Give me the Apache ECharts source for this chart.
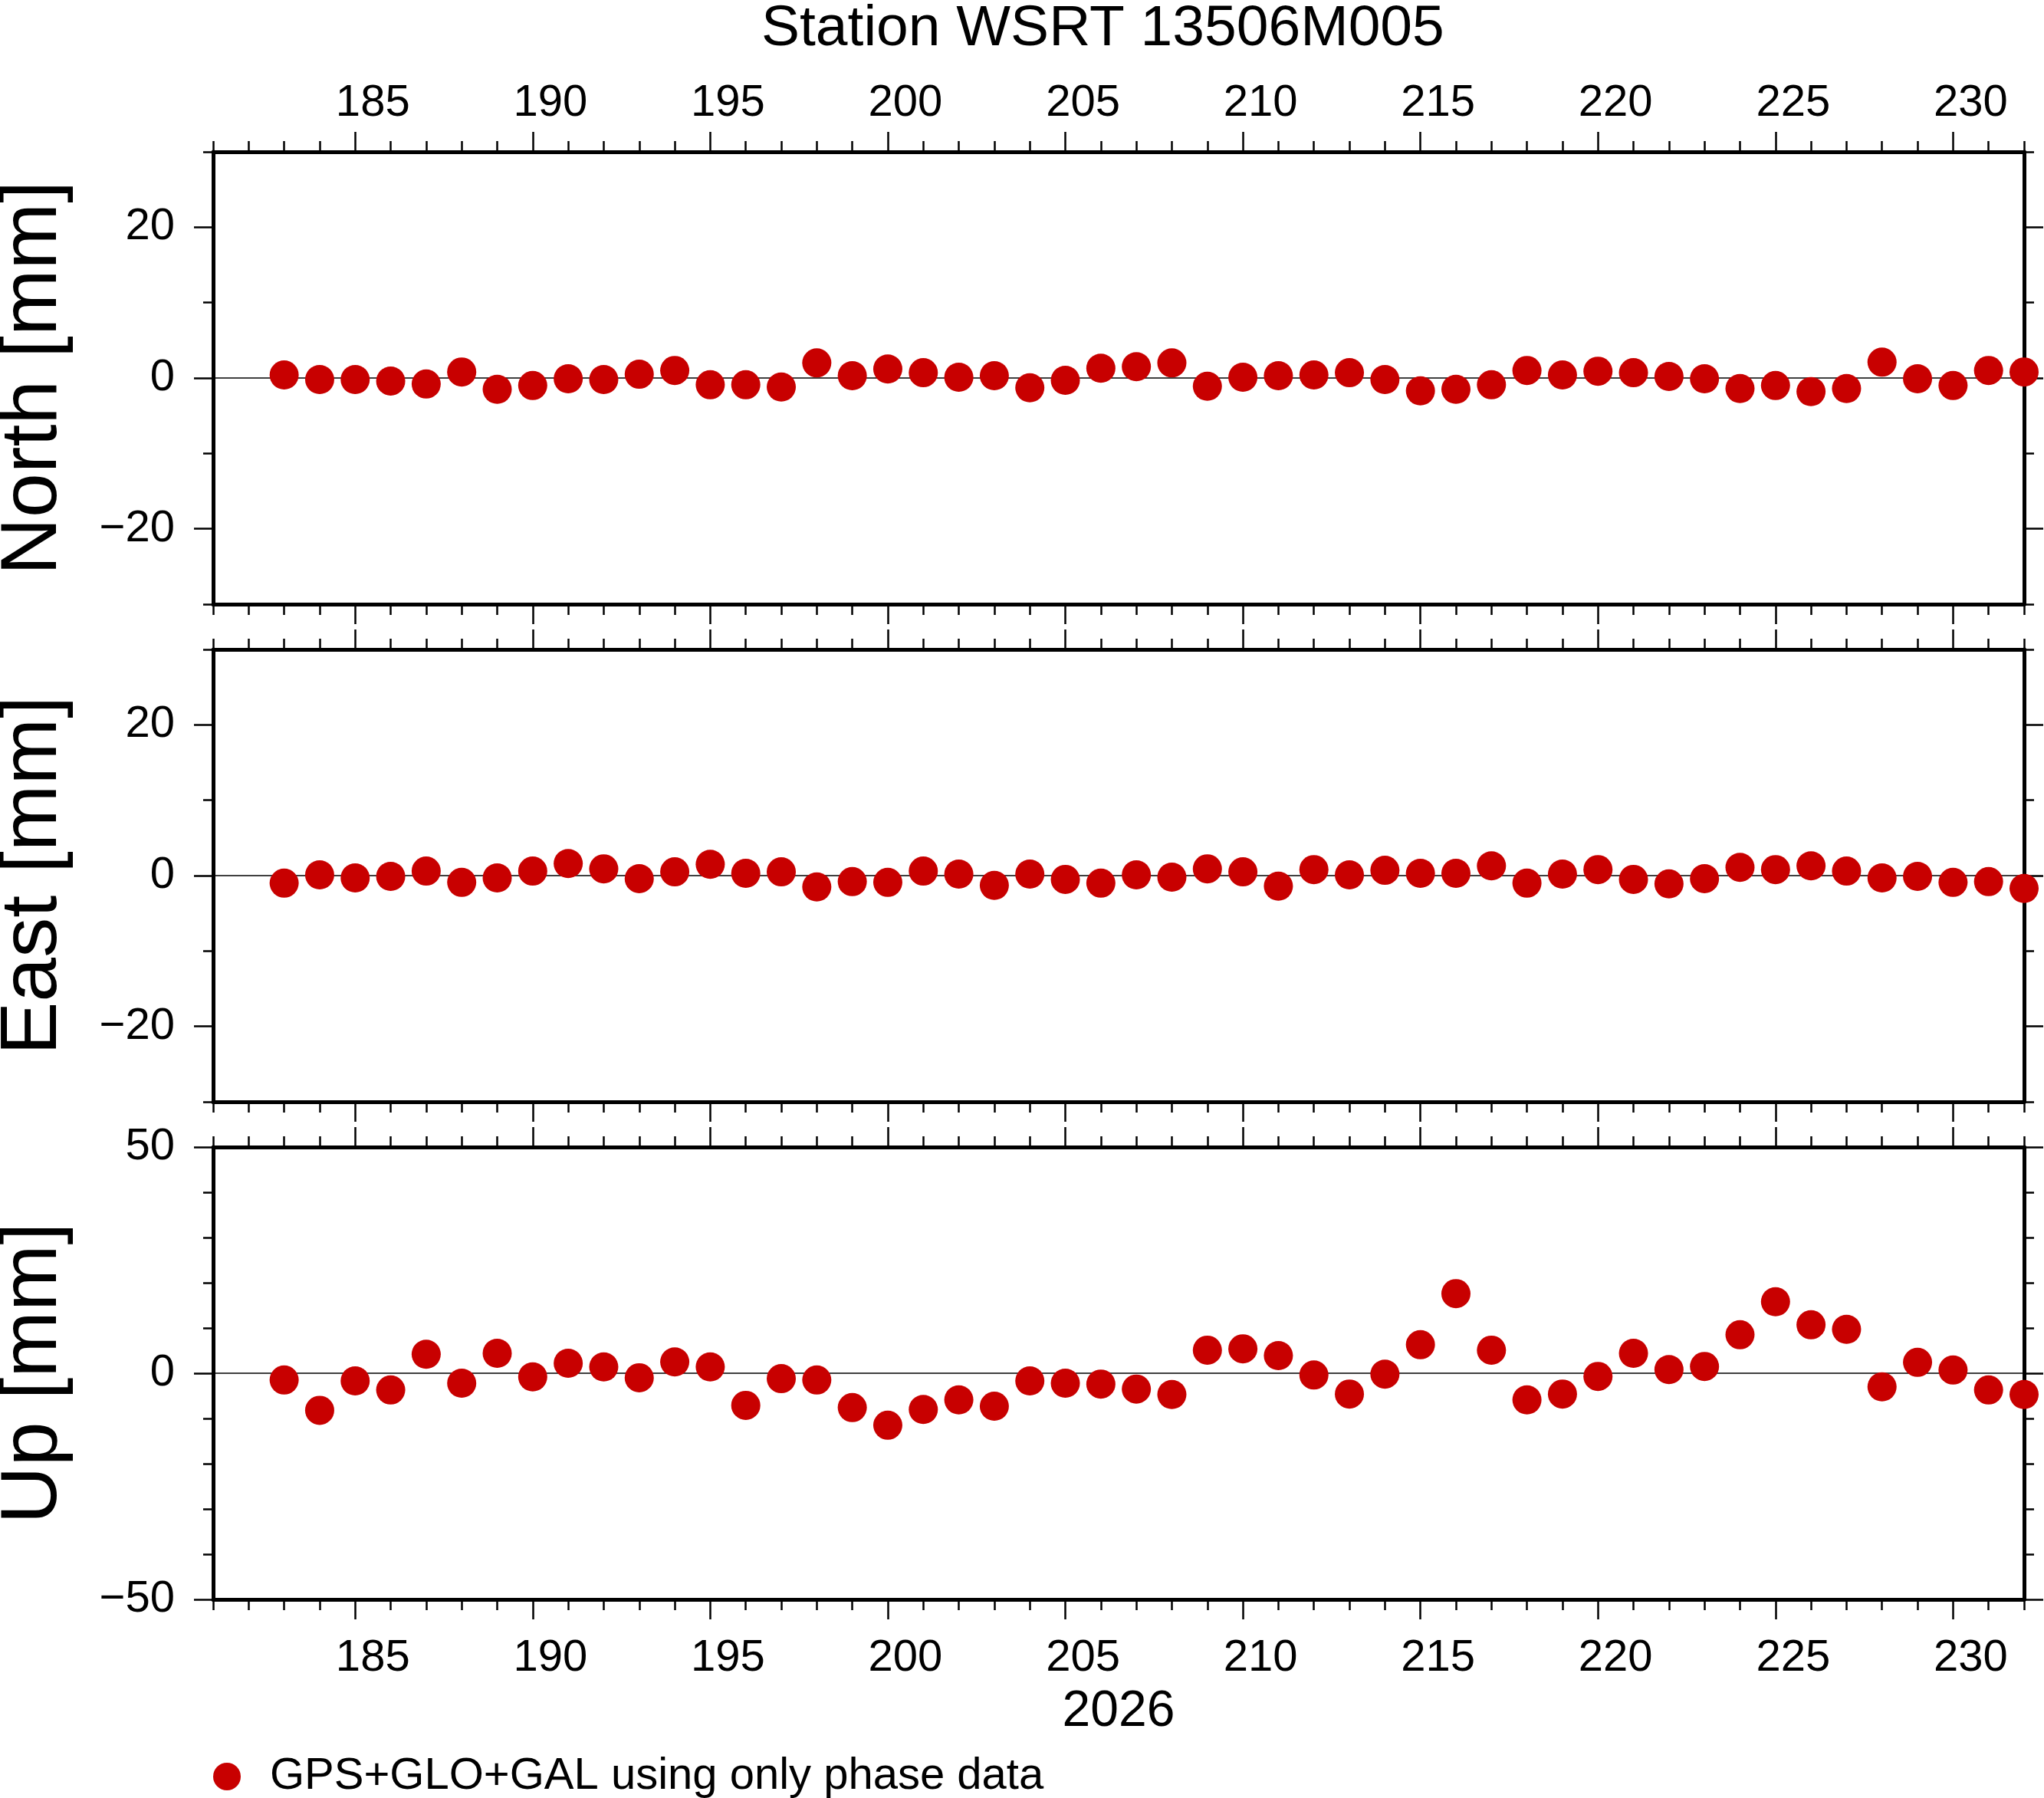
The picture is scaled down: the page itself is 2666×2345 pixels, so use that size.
<!DOCTYPE html>
<html>
<head>
<meta charset="utf-8">
<script src="https://cdn.jsdelivr.net/npm/echarts@6/dist/echarts.min.js"></script>
<style>
  html, body { margin: 0; padding: 0; background: #fff; }
  #chart { width: 2666px; height: 2345px; }
</style>
</head>
<body>
<div id="chart"></div>
<script>
var myChart = echarts.init(document.getElementById('chart'));

// day of year
var days = [183, 184, 185, 186, 187, 188, 189, 190, 191, 192, 193, 194, 195, 196, 197, 198, 199, 200, 201, 202,
            203, 204, 205, 206, 207, 208, 209, 210, 211, 212, 213, 214, 215, 216, 217, 218, 219, 220, 221, 222,
            223, 224, 225, 226, 227, 228, 229, 230, 231, 232];
// North [mm]
var northData = [0.4, -0.2, -0.2, -0.4, -0.8, 0.8, -1.5, -1.0, -0.1, -0.2, 0.5, 1.0, -0.9, -0.9, -1.2, 2.0, 0.3, 1.2, 0.7, 0.1,
                 0.3, -1.3, -0.3, 1.3, 1.5, 2.0, -1.1, 0.1, 0.3, 0.4, 0.7, -0.2, -1.7, -1.5, -0.9, 1.0, 0.4, 0.9, 0.7, 0.2,
                 -0.1, -1.4, -1.0, -1.8, -1.4, 2.1, -0.1, -1.0, 1.0, 0.8];
// East [mm]
var eastData = [-1.0, 0.1, -0.3, -0.1, 0.6, -0.9, -0.3, 0.6, 1.6, 0.9, -0.4, 0.5, 1.5, 0.3, 0.5, -1.5, -0.8, -0.9, 0.6, 0.2,
                -1.3, 0.2, -0.5, -1.0, 0.1, -0.2, 0.9, 0.5, -1.4, 0.8, 0.1, 0.7, 0.3, 0.3, 1.3, -1.0, 0.2, 0.8, -0.5, -1.1,
                -0.4, 1.1, 0.8, 1.3, 0.6, -0.3, -0.1, -0.9, -0.8, -1.7];
// Up [mm]
var upData = [-1.5, -8.2, -1.7, -3.7, 4.2, -2.2, 4.4, -0.8, 2.2, 1.4, -1.0, 2.5, 1.4, -7.1, -1.2, -1.5, -7.6, -11.5, -8.0, -5.9,
              -7.3, -1.7, -2.2, -2.4, -3.5, -4.7, 5.1, 5.4, 3.9, -0.4, -4.6, -0.2, 6.3, 17.6, 5.1, -5.9, -4.6, -0.7, 4.4, 0.8,
              1.5, 8.5, 15.8, 10.7, 9.7, -3.0, 2.4, 0.7, -3.7, -4.7];

// tick labels
var dayTicks = [185, 190, 195, 200, 205, 210, 215, 220, 225, 230];
var neTicks = [-20, 0, 20];
var upTicks = [-50, 0, 50];

var seriesName = 'GPS+GLO+GAL using only phase data';
var panelNames = ['North [mm]', 'East [mm]', 'Up [mm]'];
var panelData = [northData, eastData, upData];
var panelRange = [[-30, 30], [-30, 30], [-50, 50]];
var panelTicks = [neTicks, neTicks, upTicks];

var FONT = 'Liberation Sans, Arial, Helvetica, sans-serif';
var RED = '#c80000';
var gridTops = [198, 847, 1496];

function minusSign(v) {
    return String(v).replace('-', '\u2212');
}

var grids = [], xAxes = [], yAxes = [], series = [];

for (var g = 0; g < 3; g++) {
    grids.push({ left: 278, right: 26, top: gridTops[g], height: 590,
                 containLabel: false, outerBoundsMode: 'none' });

    // x axes: bottom major, bottom minor, top major, top minor
    ['bottom', 'top'].forEach(function (pos) {
        var showLabel = (pos === 'bottom' && g === 2) || (pos === 'top' && g === 0);
        xAxes.push({
            gridIndex: g, type: 'value', position: pos, min: 181, max: 232,
            name: (pos === 'bottom' && g === 2) ? '2026' : '',
            nameLocation: 'middle', nameGap: 114,
            nameTextStyle: { fontSize: 66, color: '#000', fontFamily: FONT },
            axisLine: { show: true, onZero: false, lineStyle: { color: '#000', width: 5 } },
            axisTick: { show: true, inside: false, length: 26, customValues: dayTicks,
                        lineStyle: { color: '#000', width: 2.5 } },
            // labels sit a little right of their ticks, as in the original plot
            axisLabel: { show: showLabel, customValues: dayTicks, fontSize: 58, color: '#000',
                         fontFamily: FONT, margin: pos === 'top' ? 34 : 48, padding: [0, 0, 0, 46] },
            splitLine: { show: false }
        });
        xAxes.push({
            gridIndex: g, type: 'value', position: pos, min: 181, max: 232, interval: 1,
            axisLine: { show: false, onZero: false },
            axisTick: { show: true, inside: false, length: 14, lineStyle: { color: '#000', width: 2.5 } },
            axisLabel: { show: false },
            splitLine: { show: false }
        });
    });

    // y axes: left major, left minor, right major, right minor
    ['left', 'right'].forEach(function (pos) {
        yAxes.push({
            gridIndex: g, type: 'value', position: pos,
            min: panelRange[g][0], max: panelRange[g][1],
            name: pos === 'left' ? panelNames[g] : '',
            nameLocation: 'middle', nameGap: 182,
            nameTextStyle: { fontSize: 104, color: '#000', fontFamily: FONT },
            axisLine: { show: true, onZero: false, lineStyle: { color: '#000', width: 5 } },
            axisTick: { show: true, inside: false, length: 25, customValues: panelTicks[g],
                        lineStyle: { color: '#000', width: 2.5 } },
            axisLabel: { show: pos === 'left', customValues: panelTicks[g], fontSize: 58, color: '#000',
                         fontFamily: FONT, margin: 50, formatter: minusSign },
            splitLine: { show: false }
        });
        yAxes.push({
            gridIndex: g, type: 'value', position: pos,
            min: panelRange[g][0], max: panelRange[g][1], interval: 10,
            axisLine: { show: false, onZero: false },
            axisTick: { show: true, inside: false, length: 13, lineStyle: { color: '#000', width: 2.5 } },
            axisLabel: { show: false },
            splitLine: { show: false }
        });
    });

    var pts = days.map(function (d, i) { return [d, panelData[g][i]]; });
    series.push({
        name: seriesName,
        type: 'scatter',
        xAxisIndex: g * 4,
        yAxisIndex: g * 4,
        data: pts,
        symbol: 'circle',
        symbolSize: 38,
        clip: false,
        z: 3,
        itemStyle: { color: RED, opacity: 1 },
        emphasis: { disabled: true },
        markLine: {
            silent: true, z: 2, symbol: ['none', 'none'],
            label: { show: false },
            lineStyle: { color: '#000', width: 1.5, type: 'solid' },
            data: [{ yAxis: 0 }]
        }
    });
}

var option = {
    animation: false,
    backgroundColor: '#fff',
    title: {
        text: 'Station WSRT 13506M005',
        left: 988, top: -4,
        textStyle: { fontSize: 75, fontWeight: 'normal', color: '#000', fontFamily: FONT }
    },
    legend: {
        data: [seriesName],
        left: 278, top: 2288, padding: 0,
        icon: 'circle', itemWidth: 36, itemHeight: 36,
        itemStyle: { opacity: 1 },
        textStyle: { fontSize: 58, color: '#000', fontFamily: FONT, padding: [0, 0, 0, 33] }
    },
    grid: grids,
    xAxis: xAxes,
    yAxis: yAxes,
    series: series
};

myChart.setOption(option);
</script>
</body>
</html>
